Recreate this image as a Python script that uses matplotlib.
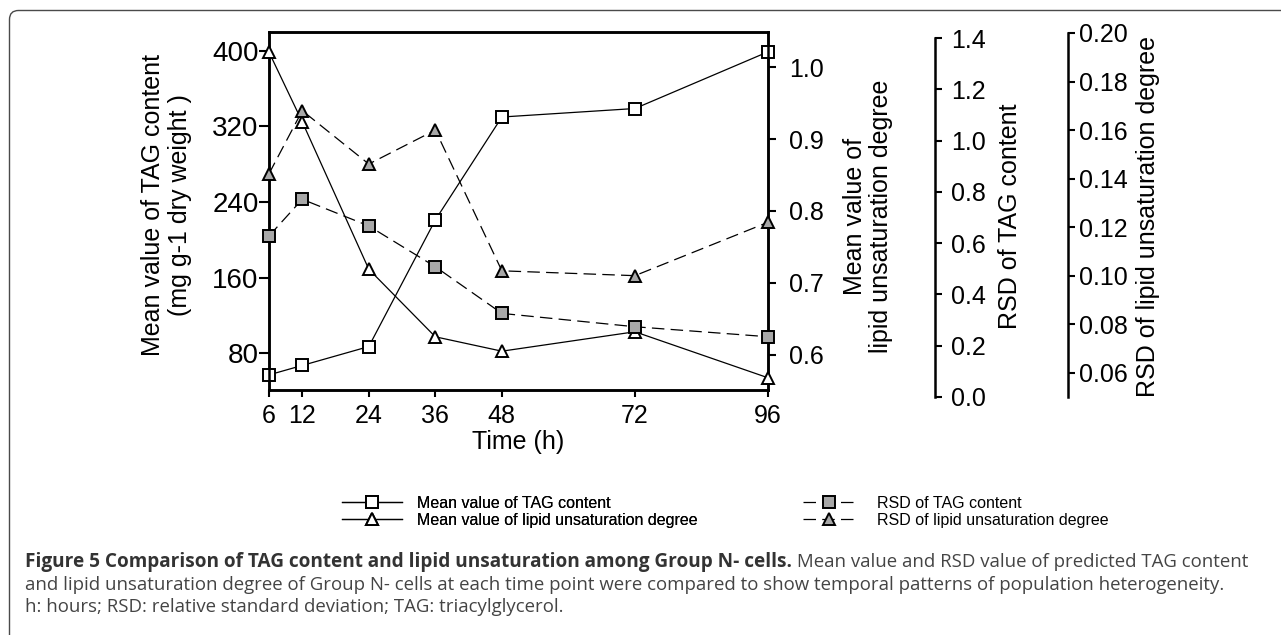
import matplotlib
matplotlib.use("Agg")
import matplotlib.pyplot as plt
from matplotlib.patches import FancyBboxPatch

plt.rcParams['font.family'] = ['Liberation Sans', 'DejaVu Sans']

# data
time_h = [6, 12, 24, 36, 48, 72, 96]
tag_mean = [57, 67, 87, 221, 330, 339, 399]
unsat_mean = [1.021, 0.924, 0.719, 0.625, 0.605, 0.632, 0.568]
tag_rsd = [0.628, 0.771, 0.667, 0.508, 0.326, 0.274, 0.235]
unsat_rsd = [0.142, 0.168, 0.146, 0.160, 0.102, 0.100, 0.122]

x_ticks = [6, 12, 24, 36, 48, 72, 96]
tag_ticks = [80, 160, 240, 320, 400]
unsat_ticks = [0.6, 0.7, 0.8, 0.9, 1.0]
tag_rsd_ticks = [0.0, 0.2, 0.4, 0.6, 0.8, 1.0, 1.2, 1.4]
unsat_rsd_ticks = [0.06, 0.08, 0.10, 0.12, 0.14, 0.16, 0.18, 0.20]

labels = ["Mean value of TAG content", "Mean value of lipid unsaturation degree",
          "RSD of TAG content", "RSD of lipid unsaturation degree"]

caption_bold = "Figure 5 Comparison of TAG content and lipid unsaturation among Group N- cells."
caption_1 = " Mean value and RSD value of predicted TAG content"
caption_2 = ("and lipid unsaturation degree of Group N- cells at each time point were "
             "compared to show temporal patterns of population heterogeneity.")
caption_3 = "h: hours; RSD: relative standard deviation; TAG: triacylglycerol."

W, H = 1281, 635
fig = plt.figure(figsize=(W / 100, H / 100), dpi=100)


def frac(x0, y0, x1, y1):
    # pixel box (top-left origin) -> figure fraction
    return [x0 / W, 1 - y1 / H, (x1 - x0) / W, (y1 - y0) / H]


# background with rounded frame, pixel coords
bg = fig.add_axes([0, 0, 1, 1], zorder=-5)
bg.set_xlim(0, W)
bg.set_ylim(H, 0)
bg.axis('off')
bg.add_patch(FancyBboxPatch((9.5, 10.5), W + 40, H + 40,
                            boxstyle='round,pad=0,rounding_size=9',
                            fc='white', ec='#4a4a4a', lw=1.0))

ax = fig.add_axes(frac(269, 32, 768, 390))
ax.set_facecolor('none')
ax2 = ax.twinx()
ax3 = fig.add_axes(frac(269, 38, 768, 397), sharex=ax)
ax4 = fig.add_axes(frac(269, 33, 768, 397), sharex=ax)

lw = 0.9
ms = 8
mew = 1.4
gray = '#a8a8a8'

l1, = ax.plot(time_h, tag_mean, color='k', lw=lw, marker='s', ms=ms,
              mfc='white', mec='k', mew=mew, clip_on=False, zorder=5)
l2, = ax2.plot(time_h, unsat_mean, color='k', lw=lw, marker='^', ms=ms + 1,
               mfc='white', mec='k', mew=mew, clip_on=False, zorder=5)
l3, = ax3.plot(time_h, tag_rsd, color='k', lw=lw, marker='s', ms=ms,
               mfc=gray, mec='k', mew=mew, clip_on=False, zorder=5,
               dashes=(10, 5))
l4, = ax4.plot(time_h, unsat_rsd, color='k', lw=lw, marker='^', ms=ms + 1,
               mfc=gray, mec='k', mew=mew, clip_on=False, zorder=5,
               dashes=(10, 5))

ax.set_xlim(6, 96)
ax.set_xticks(x_ticks)
ax.set_ylim(41, 420)
ax.set_yticks(tag_ticks)
ax2.set_ylim(0.551, 1.049)
ax2.set_yticks(unsat_ticks)
ax2.set_yticklabels([f"{v:.1f}" for v in unsat_ticks])
ax3.set_ylim(0, 1.4)
ax3.set_yticks(tag_rsd_ticks)
ax3.set_yticklabels([f"{v:.1f}" for v in tag_rsd_ticks])
ax4.set_ylim(0.05, 0.20)
ax4.set_yticks(unsat_rsd_ticks)
ax4.set_yticklabels([f"{v:.2f}" for v in unsat_rsd_ticks])

fs = 18
for a in (ax, ax2):
    for s in a.spines.values():
        s.set_linewidth(1.8)
ax.tick_params(axis='x', direction='out', length=5, width=1.5, labelsize=fs, pad=5, top=False)
ax.tick_params(axis='y', direction='out', length=7, width=1.5, labelsize=20, pad=0.5, right=False)
ax2.tick_params(axis='y', direction='out', length=6, width=1.5, labelsize=fs, pad=9)

for a, pos, pad in ((ax3, 1.3347, 6.5), (ax4, 1.601, 3)):
    a.set_facecolor('none')
    for k in ('left', 'top', 'bottom'):
        a.spines[k].set_visible(False)
    a.spines['right'].set_position(('axes', pos))
    a.spines['right'].set_linewidth(1.8)
    a.xaxis.set_visible(False)
    a.yaxis.tick_right()
    a.yaxis.set_label_position('right')
    a.tick_params(axis='y', direction='out', length=5, width=1.5, labelsize=fs, pad=pad)

ax.set_xlabel("Time (h)", fontsize=fs, va='center')
ax.xaxis.set_label_coords(0.5, -0.145)
ax.set_ylabel("Mean value of TAG content\n(mg g-1 dry weight )", fontsize=fs,
              va='center', linespacing=1.15)
ax.yaxis.set_label_coords(-0.206, 0.517)
ax2.set_ylabel("Mean value of\nlipid unsaturation degree", fontsize=fs,
               va='center', rotation=90, linespacing=1.15)
ax2.yaxis.set_label_coords(1.2004, 0.486)
ax3.set_ylabel(labels[2], fontsize=fs, va='center', rotation=90)
ax3.yaxis.set_label_coords(1.485, 0.504)
ax4.set_ylabel(labels[3], fontsize=fs, va='center', rotation=90)
ax4.yaxis.set_label_coords(1.7615, 0.495)

# legend, two columns placed separately
lfs = 11.5
leg1 = fig.legend([l1, l2], labels[:2], loc='upper left',
                  bbox_to_anchor=(342 / W, 1 - 496 / H), frameon=False,
                  fontsize=lfs, handlelength=3.75, handletextpad=0.94,
                  labelspacing=0.1, borderpad=0, borderaxespad=0)
leg2 = fig.legend([l3, l4], labels[2:], loc='upper left',
                  bbox_to_anchor=(803 / W, 1 - 496 / H), frameon=False,
                  fontsize=lfs, handlelength=3.25, handletextpad=1.375,
                  labelspacing=0.1, borderpad=0, borderaxespad=0)
fig.add_artist(leg1)

# caption
fig.canvas.draw()
r = fig.canvas.get_renderer()
cap_font = ['Open Sans', 'DejaVu Sans']
t2 = bg.text(25, 590, caption_2, fontsize=10, family=cap_font, color='#444444', va='baseline')
cfs = 10 * 1198 / t2.get_window_extent(r).width
t2.set_fontsize(cfs)
tb = bg.text(25, 567, caption_bold, fontsize=10, family=cap_font, fontweight='bold',
             color='#333333', va='baseline')
tb.set_fontsize(10 * 768 / tb.get_window_extent(r).width)
wb = tb.get_window_extent(r).width
bg.text(25 + wb, 567, caption_1, fontsize=cfs, family=cap_font, color='#444444', va='baseline')
bg.text(25, 612, caption_3, fontsize=cfs, family=cap_font, color='#444444', va='baseline')

fig.savefig("out.png", dpi=100)
